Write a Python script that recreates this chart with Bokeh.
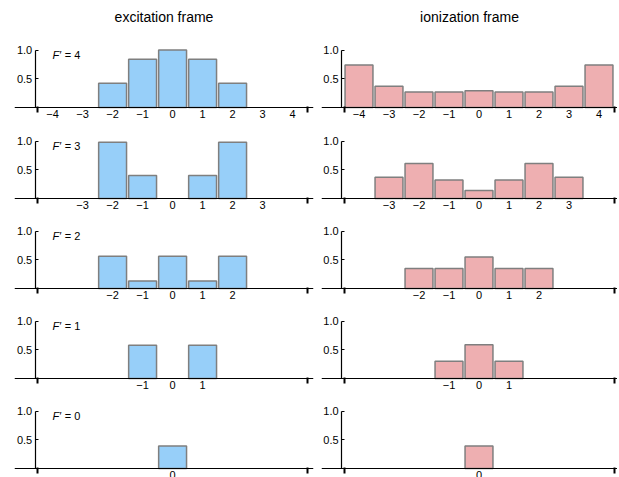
from bokeh.plotting import figure
from bokeh.layouts import gridplot
from bokeh.models import FixedTicker, Range1d, PrintfTickFormatter, Title
from bokeh.core.properties import value
from bokeh.embed import file_html
from bokeh.resources import INLINE

# ---------------- data ----------------
F_levels = [4, 3, 2, 1, 0]

# excitation frame: m_F values and relative populations
exc_m_4 = [-2, -1, 0, 1, 2]
exc_p_4 = [0.42, 0.84, 1.00, 0.84, 0.42]
exc_m_3 = [-2, -1, 1, 2]
exc_p_3 = [0.98, 0.40, 0.40, 0.98]
exc_m_2 = [-2, -1, 0, 1, 2]
exc_p_2 = [0.56, 0.13, 0.56, 0.13, 0.56]
exc_m_1 = [-1, 1]
exc_p_1 = [0.58, 0.58]
exc_m_0 = [0]
exc_p_0 = [0.39]

# ionization frame
ion_m_4 = [-4, -3, -2, -1, 0, 1, 2, 3, 4]
ion_p_4 = [0.74, 0.37, 0.27, 0.27, 0.29, 0.27, 0.27, 0.37, 0.74]
ion_m_3 = [-3, -2, -1, 0, 1, 2, 3]
ion_p_3 = [0.37, 0.61, 0.32, 0.14, 0.32, 0.61, 0.37]
ion_m_2 = [-2, -1, 0, 1, 2]
ion_p_2 = [0.35, 0.35, 0.55, 0.35, 0.35]
ion_m_1 = [-1, 0, 1]
ion_p_1 = [0.30, 0.585, 0.30]
ion_m_0 = [0]
ion_p_0 = [0.39]

# tick values (x) per F' level
ticks_4 = [-4, -3, -2, -1, 0, 1, 2, 3, 4]
ticks_3 = [-3, -2, -1, 0, 1, 2, 3]
ticks_2 = [-2, -1, 0, 1, 2]
ticks_1 = [-1, 0, 1]
ticks_0 = [0]
end_ticks = [-4.5, 4.5]
y_ticks = [0.5, 1.0]

column_titles = ["excitation frame", "ionization frame"]

exc = [(exc_m_4, exc_p_4), (exc_m_3, exc_p_3), (exc_m_2, exc_p_2), (exc_m_1, exc_p_1), (exc_m_0, exc_p_0)]
ion = [(ion_m_4, ion_p_4), (ion_m_3, ion_p_3), (ion_m_2, ion_p_2), (ion_m_1, ion_p_1), (ion_m_0, ion_p_0)]
ticks = [ticks_4, ticks_3, ticks_2, ticks_1, ticks_0]

FONT = "Liberation Sans"
BLUE = "#97cff9"
PINK = "#eeafb1"
EDGE = "#7f7f7f"

PX_PER_UNIT = 30.0
PX_PER_Y = 57.5
ABOVE = 64                 # frame px above the x axis
tops = [42, 0, 0, 0, 0]    # border above each row's frame
below = [27, 26, 26, 26, 10]  # frame px below the x axis (room for tick labels)


def label_of(t):
    return ("\u2212" + str(-t)) if t < 0 else str(t)


def panel(col, row):
    m, p_vals = (exc if col == 0 else ion)[row]
    if col == 0:
        fw, x0, mbl, mbr = 299, -5.27, 14, 5
    else:
        fw, x0, mbl, mbr = 296, -5.25, 3, 0
    p = figure(frame_width=fw, frame_height=ABOVE + below[row],
               x_range=Range1d(x0, x0 + fw / PX_PER_UNIT),
               y_range=Range1d(-below[row] / PX_PER_Y, ABOVE / PX_PER_Y),
               output_backend="svg", toolbar_location=None,
               min_border_left=mbl, min_border_right=mbr,
               min_border_top=tops[row], min_border_bottom=0,
               outline_line_color=None, background_fill_color="white",
               border_fill_color="white")
    p.grid.visible = False

    p.vbar(x=m, top=p_vals, bottom=0, width=0.93,
           fill_color=BLUE if col == 0 else PINK, line_color=EDGE, line_width=1.5)

    # x axis
    xa = p.xaxis[0]
    xa.fixed_location = 0
    xa.ticker = FixedTicker(ticks=ticks[row], minor_ticks=end_ticks)
    xa.major_label_overrides = {t: label_of(t) for t in ticks[row]}
    xa.major_tick_in = 0
    xa.major_tick_out = 0
    xa.minor_tick_in = 1
    xa.minor_tick_out = 5
    xa.minor_tick_line_width = 2
    xa.minor_tick_line_color = "black"
    xa.axis_line_color = "black"
    xa.axis_line_width = 1.2
    xa.major_label_standoff = -3
    xa.major_label_text_font = FONT
    xa.major_label_text_font_size = "11px"
    xa.major_label_text_color = "black"

    # y axis
    ya = p.yaxis[0]
    ya.fixed_location = -4.58
    ya.bounds = (0, 1.0)
    ya.ticker = FixedTicker(ticks=y_ticks)
    ya.formatter = PrintfTickFormatter(format="%.1f")
    ya.major_tick_in = 3
    ya.major_tick_out = 0
    ya.minor_tick_in = 0
    ya.minor_tick_out = 0
    ya.major_tick_line_color = "black"
    ya.axis_line_color = "black"
    ya.axis_line_width = 1.2
    ya.major_label_standoff = 3
    ya.major_label_text_font = FONT
    ya.major_label_text_font_size = "11px"
    ya.major_label_text_color = "black"

    if col == 0:
        F = F_levels[row]
        p.text(x=[-4.0], y=[0.91], text=["F"], text_font=value(FONT),
               text_font_style="italic", text_font_size="11px",
               text_baseline="middle", text_align="left", text_color="black")
        p.text(x=[-4.0], y=[0.91], text=["\u2032 = %d" % F], x_offset=7,
               text_font=value(FONT), text_font_size="11px",
               text_baseline="middle", text_align="left", text_color="black")

    if row == 0:
        # thin blank spacer between frame and the column title
        p.add_layout(Title(text=" ", text_font_size="10px", standoff=0), "above")
        p.title.text = column_titles[col]
        p.title.align = "center"
        p.title.text_font = FONT
        p.title.text_font_size = "14px"
        p.title.text_font_style = "normal"
        p.title.text_color = "black"
        p.title.standoff = 12
    return p


grid = [[panel(0, r), panel(1, r)] for r in range(5)]
layout = gridplot(grid, toolbar_location=None)

open("out.html", "w").write(file_html(layout, INLINE))
